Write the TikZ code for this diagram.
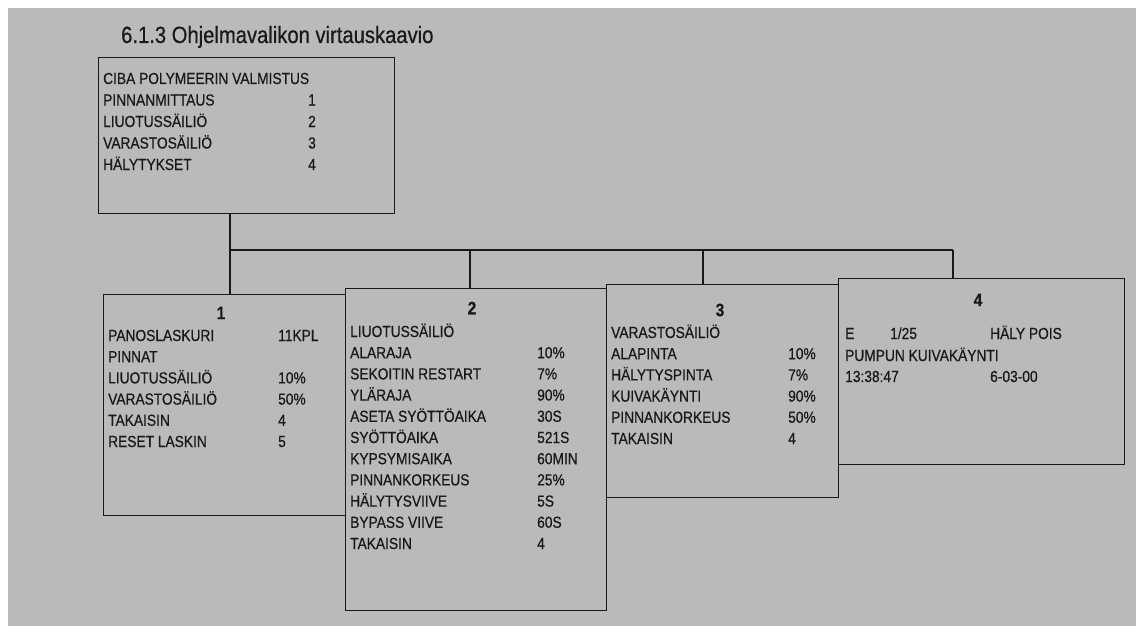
\documentclass[tikz,border=0pt]{standalone}
\usepackage{fontspec}
\usepackage{xcolor}
\newfontfamily\scanfont{Liberation Sans}[FakeStretch=0.86, FakeBold=0.6]
\definecolor{paper}{gray}{0.73}
\definecolor{ink}{gray}{0.1}

\begin{document}
\begin{tikzpicture}[x=1pt, y=-1pt,
    menubox/.style={draw=ink, line width=1.4pt, anchor=north west, inner sep=0pt},
    rowtext/.style={anchor=base west, inner sep=0pt, text=ink, font=\scanfont\fontsize{16}{18}\selectfont},
    boxnum/.style={inner sep=0pt, text=ink, font=\scanfont\bfseries\fontsize{18}{20}\selectfont},
    wire/.style={draw=ink, line width=1.4pt}]

        % Paper
        \useasboundingbox (0,0) rectangle (1138,626);
        \fill[white] (0,0) rectangle (1138,626);
        \fill[paper] (8,8) rectangle (1136,626);

        % Title
        \node[anchor=base west, inner sep=0pt, text=ink, font=\scanfont\fontsize{23.5}{27}\selectfont] (title) at (121,43) {6.1.3 Ohjelmavalikon virtauskaavio};

        % Main menu
        \node[menubox, minimum width=296pt, minimum height=156pt] (main) at (98,57) {};
        \foreach \txt/\val [count=\i] in {CIBA POLYMEERIN VALMISTUS/, PINNANMITTAUS/1, LIUOTUSSÄILIÖ/2, VARASTOSÄILIÖ/3, HÄLYTYKSET/4}
        {
            \node[rowtext] (m\i) at (103, 84+\i*21.5-21.5) {\txt};
            \node[rowtext] (mv\i) at (308, 84+\i*21.5-21.5) {\val};
        }

        % Sub menus
        \node[menubox, minimum width=242pt, minimum height=221pt] (b1) at (103,294) {};
        \node[menubox, minimum width=261pt, minimum height=322pt] (b2) at (345,288) {};
        \node[menubox, minimum width=232pt, minimum height=213pt] (b3) at (606,284) {};
        \node[menubox, minimum width=286pt, minimum height=186pt] (b4) at (838,278) {};

        % Box numbers
        \node[boxnum] (n1) at (221,313) {1};
        \node[boxnum] (n2) at (472,308) {2};
        \node[boxnum] (n3) at (720,310) {3};
        \node[boxnum] (n4) at (978,300) {4};

        % Box 1
        \foreach \txt/\val [count=\i] in {PANOSLASKURI/11KPL, PINNAT/, LIUOTUSSÄILIÖ/10\%, VARASTOSÄILIÖ/50\%, TAKAISIN/4, RESET LASKIN/5}
        {
            \node[rowtext] (b1r\i) at (108, 341+\i*21.2-21.2) {\txt};
            \node[rowtext] (b1v\i) at (278, 341+\i*21.2-21.2) {\val};
        }

        % Box 2
        \foreach \txt/\val [count=\i] in {LIUOTUSSÄILIÖ/, ALARAJA/10\%, SEKOITIN RESTART/7\%, YLÄRAJA/90\%, ASETA SYÖTTÖAIKA/30S, SYÖTTÖAIKA/521S, KYPSYMISAIKA/60MIN, PINNANKORKEUS/25\%, HÄLYTYSVIIVE/5S, BYPASS VIIVE/60S, TAKAISIN/4}
        {
            \node[rowtext] (b2r\i) at (350, 337+\i*21.2-21.2) {\txt};
            \node[rowtext] (b2v\i) at (537, 337+\i*21.2-21.2) {\val};
        }

        % Box 3
        \foreach \txt/\val [count=\i] in {VARASTOSÄILIÖ/, ALAPINTA/10\%, HÄLYTYSPINTA/7\%, KUIVAKÄYNTI/90\%, PINNANKORKEUS/50\%, TAKAISIN/4}
        {
            \node[rowtext] (b3r\i) at (611, 338+\i*21.2-21.2) {\txt};
            \node[rowtext] (b3v\i) at (788, 338+\i*21.2-21.2) {\val};
        }

        % Box 4
        \node[rowtext] (b4e) at (845,339) {E};
        \node[rowtext] (b4c) at (890,339) {1/25};
        \node[rowtext] (b4h) at (990,339) {HÄLY POIS};
        \node[rowtext] (b4p) at (845,361) {PUMPUN KUIVAKÄYNTI};
        \node[rowtext] (b4t) at (845,382) {13:38:47};
        \node[rowtext] (b4d) at (990,382) {6-03-00};

        % Connectors
        \coordinate (j1) at (230,250);
        \coordinate (j2) at (470,250);
        \coordinate (j3) at (703,250);
        \coordinate (j4) at (953,250);
        \draw[wire] (j1 |- main.south) -- (j1 |- b1.north);
        \draw[wire] (j1) -- (j4);
        \draw[wire] (j2) -- (j2 |- b2.north);
        \draw[wire] (j3) -- (j3 |- b3.north);
        \draw[wire] (j4) -- (j4 |- b4.north);

\end{tikzpicture}
\end{document}
